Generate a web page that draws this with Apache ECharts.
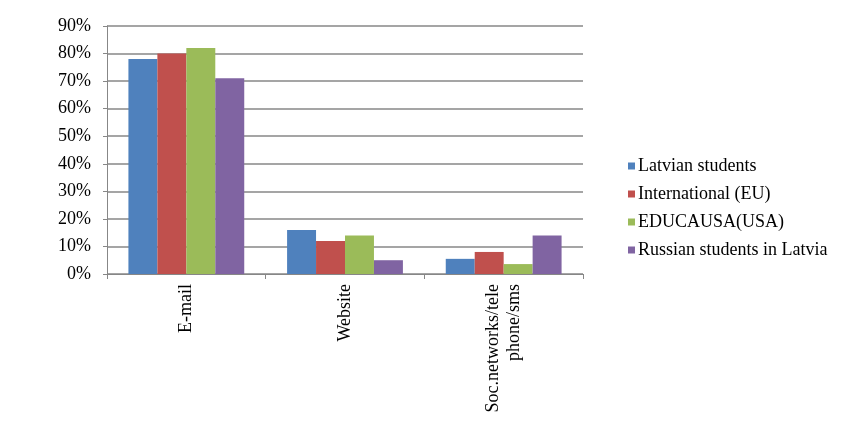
<!DOCTYPE html>
<html>
<head>
<meta charset="utf-8">
<script src="https://cdn.jsdelivr.net/npm/echarts@6/dist/echarts.min.js"></script>
<style>
  html, body { margin: 0; padding: 0; background: #fff; }
  #main { width: 865px; height: 430px; }
</style>
</head>
<body>
<div id="main"></div>
<script>
  // data
  const categories = ['E-mail', 'Website', 'Soc.networks/tele\nphone/sms']
  const seriesNames = ['Latvian students', 'International (EU)', 'EDUCAUSA(USA)', 'Russian students in Latvia']
  const latvian = [78, 16, 5.5]
  const international = [80, 12, 8]
  const educausa = [82, 14, 3.6]
  const russian = [71, 5, 14]
  const colors = ['#4F81BD', '#C0504D', '#9BBB59', '#8064A2']

  const font = '"Liberation Serif", "Times New Roman", serif'
  const values = [latvian, international, educausa, russian]

  const option = {
    animation: false,
    color: colors,
    grid: { left: 107, right: 282, top: 26, bottom: 156 },
    legend: {
      orient: 'vertical',
      left: 623,
      top: 152,
      itemWidth: 7,
      itemHeight: 7,
      itemGap: 10,
      icon: 'rect',
      textStyle: { fontFamily: font, fontSize: 18, color: '#000', padding: [0, 0, 0, -2] },
      data: seriesNames
    },
    xAxis: {
      type: 'category',
      data: categories,
      axisLine: { lineStyle: { color: '#878787', width: 1 } },
      axisTick: { show: true, length: 5, lineStyle: { color: '#878787' } },
      axisLabel: {
        rotate: 90,
        interval: 0,
        margin: 10,
        fontFamily: font,
        fontSize: 18,
        color: '#000',
        lineHeight: 21,
        align: 'right'
      }
    },
    yAxis: {
      type: 'value',
      min: 0,
      max: 90,
      interval: 10,
      axisLine: { show: true, lineStyle: { color: '#878787' } },
      axisTick: { show: true, length: 4, lineStyle: { color: '#878787' } },
      splitLine: { lineStyle: { color: '#878787', width: 1.5 } },
      axisLabel: {
        formatter: '{value}%',
        margin: 16,
        fontFamily: font,
        fontSize: 18,
        color: '#000'
      }
    },
    series: seriesNames.map((name, i) => ({
      name: name,
      type: 'bar',
      data: values[i],
      barGap: '0%',
      barCategoryGap: '27%'
    }))
  }

  const myChart = echarts.init(document.getElementById('main'))
  myChart.setOption(option)
</script>
</body>
</html>
